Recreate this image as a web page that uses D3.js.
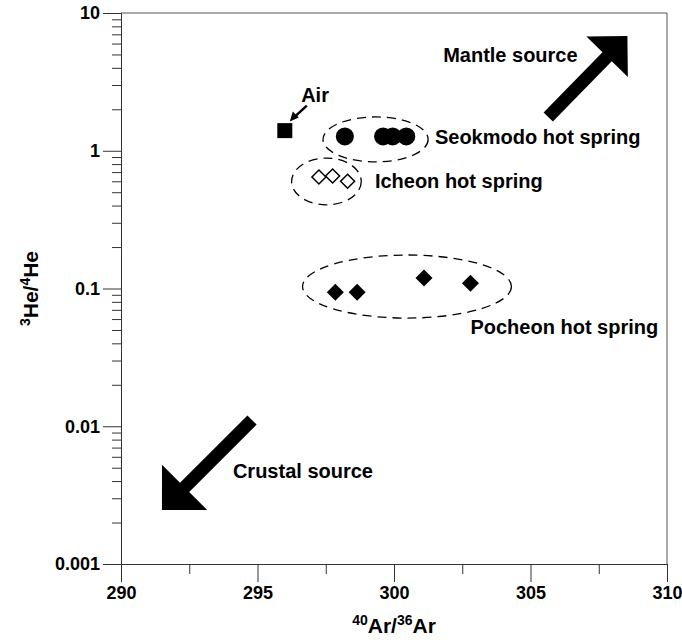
<!DOCTYPE html>
<meta charset="utf-8">
<style>
  body { margin: 0; background: #fff; }
  svg text { font-family: "Liberation Sans", Arial, sans-serif; font-weight: bold; }
</style>
<svg width="682" height="643"></svg>
<script src="https://d3js.org/d3.v7.min.js"></script>
<script>

// --- data ---
var xTicks = [290, 295, 300, 305, 310];
var xTickLabels = ["290", "295", "300", "305", "310"];
var xMinorTicks = [292.5, 297.5, 302.5, 307.5];
var yTicks = [0.001, 0.01, 0.1, 1, 10];
var yTickLabels = ["0.001", "0.01", "0.1", "1", "10"];

var airX = [296.0];
var airY = [1.40];
var seokmodoX = [298.2, 299.6, 299.95, 300.45];
var seokmodoY = [1.27, 1.27, 1.27, 1.27];
var icheonX = [297.25, 297.75, 298.3];
var icheonY = [0.645, 0.655, 0.60];
var pocheonX = [297.85, 298.65, 301.1, 302.8];
var pocheonY = [0.094, 0.094, 0.119, 0.109];

// dashed group outlines: [xmin, xmax, ymin, ymax] in data units
var seokmodoEllipse = [297.4, 301.25, 0.83, 1.76];
var icheonEllipse = [296.25, 298.8, 0.405, 0.885];
var pocheonEllipse = [296.65, 304.3, 0.061, 0.175];

// direction arrows: tail -> tip in data units
var mantleArrow = {tail: [305.65, 1.76], tip: [308.55, 6.8]};
var crustalArrow = {tail: [294.8, 0.0111], tip: [291.5, 0.00247]};

var svg = d3.select("svg"),
    margin = {top: 13, right: 15, bottom: 79, left: 121},
    width = +svg.attr("width") - margin.left - margin.right,
    height = +svg.attr("height") - margin.top - margin.bottom,
    g = svg.append("g").attr("transform", "translate(" + margin.left + "," + margin.top + ")");

var x = d3.scaleLinear().domain([290, 310]).range([0, width]);
var y = d3.scaleLog().domain([0.001, 10]).range([height, 0]);

var yMinor = [];
[0.001, 0.01, 0.1, 1].forEach(function(d) {
  for (var k = 2; k <= 9; k++) yMinor.push(d * k);
});

// frame (top + right)
g.append("path")
    .attr("fill", "none")
    .attr("stroke", "#555")
    .attr("d", "M0,0H" + width + "V" + height);

// axes
g.append("g")
    .attr("transform", "translate(0," + height + ")")
    .call(d3.axisBottom(x).tickValues(xTicks).tickSize(18).tickPadding(4)
      .tickFormat(function(d, i) { return xTickLabels[i]; }));
g.append("g")
    .attr("transform", "translate(0," + height + ")")
    .call(d3.axisBottom(x).tickValues(xMinorTicks).tickSize(10).tickFormat(""))
  .select(".domain").remove();

g.append("g")
    .call(d3.axisLeft(y).tickValues(yTicks).tickSize(18).tickPadding(3)
      .tickFormat(function(d, i) { return yTickLabels[i]; }));
g.append("g")
    .call(d3.axisLeft(y).tickValues(yMinor).tickSize(9).tickFormat(""))
  .select(".domain").remove();

g.selectAll(".tick line, .domain").attr("stroke", "#333");
g.selectAll(".tick text")
    .attr("font-size", 18)
    .attr("font-family", "Liberation Sans, Arial, sans-serif")
    .attr("font-weight", "bold")
    .attr("fill", "#000");

// axis titles
var xt = svg.append("text")
    .attr("x", margin.left + width / 2)
    .attr("y", 633)
    .attr("text-anchor", "middle")
    .attr("font-size", 21);
xt.append("tspan").attr("font-size", 14).attr("dy", -8).text("40");
xt.append("tspan").attr("dy", 8).text("Ar/");
xt.append("tspan").attr("font-size", 14).attr("dy", -8).text("36");
xt.append("tspan").attr("dy", 8).text("Ar");

var yt = svg.append("text")
    .attr("transform", "translate(38," + (margin.top + y(0.1)) + ") rotate(-90)")
    .attr("text-anchor", "middle")
    .attr("font-size", 21);
yt.append("tspan").attr("font-size", 14).attr("dy", -8).text("3");
yt.append("tspan").attr("dy", 8).text("He/");
yt.append("tspan").attr("font-size", 14).attr("dy", -8).text("4");
yt.append("tspan").attr("dy", 8).text("He");

// dashed ellipses
[seokmodoEllipse, icheonEllipse, pocheonEllipse].forEach(function(e) {
  var x0 = x(e[0]), x1 = x(e[1]), y0 = y(e[3]), y1 = y(e[2]);
  g.append("ellipse")
      .attr("cx", (x0 + x1) / 2)
      .attr("cy", (y0 + y1) / 2)
      .attr("rx", (x1 - x0) / 2)
      .attr("ry", (y1 - y0) / 2)
      .attr("fill", "none")
      .attr("stroke", "#000")
      .attr("stroke-width", 1.3)
      .attr("stroke-dasharray", "9,6");
});

function diamond(cx, cy, r) {
  return "M" + cx + "," + (cy - r) + "L" + (cx + r) + "," + cy +
         "L" + cx + "," + (cy + r) + "L" + (cx - r) + "," + cy + "Z";
}

// Air
g.selectAll(".air").data(airX).enter().append("rect")
    .attr("x", function(d) { return x(d) - 7.5; })
    .attr("y", function(d, i) { return y(airY[i]) - 7.5; })
    .attr("width", 15).attr("height", 15)
    .attr("fill", "#000");

// Seokmodo
g.selectAll(".seok").data(seokmodoX).enter().append("circle")
    .attr("cx", function(d) { return x(d); })
    .attr("cy", function(d, i) { return y(seokmodoY[i]); })
    .attr("r", 9)
    .attr("fill", "#000");

// Icheon
g.selectAll(".ich").data(icheonX).enter().append("path")
    .attr("d", function(d, i) { return diamond(x(d), y(icheonY[i]), 7); })
    .attr("fill", "#fff")
    .attr("stroke", "#000")
    .attr("stroke-width", 1.5);

// Pocheon
g.selectAll(".poc").data(pocheonX).enter().append("path")
    .attr("d", function(d, i) { return diamond(x(d), y(pocheonY[i]), 8.5); })
    .attr("fill", "#000");

// block arrows
function blockArrow(a, shaft, head) {
  var tx = x(a.tail[0]), ty = y(a.tail[1]), px = x(a.tip[0]), py = y(a.tip[1]);
  var dx = px - tx, dy = py - ty, L = Math.sqrt(dx * dx + dy * dy);
  var ux = dx / L, uy = dy / L, nx = -uy, ny = ux;
  var bx = px - ux * head, by = py - uy * head;
  var pts = [
    [tx + nx * shaft / 2, ty + ny * shaft / 2],
    [bx + nx * shaft / 2, by + ny * shaft / 2],
    [bx + nx * head, by + ny * head],
    [px, py],
    [bx - nx * head, by - ny * head],
    [bx - nx * shaft / 2, by - ny * shaft / 2],
    [tx - nx * shaft / 2, ty - ny * shaft / 2]
  ];
  g.append("path")
      .attr("d", "M" + pts.join("L") + "Z")
      .attr("fill", "#000");
}
blockArrow(mantleArrow, 13, 29);
blockArrow(crustalArrow, 13, 32);

// small arrow to Air
var ax = x(airX[0]), ay = y(airY[0]);
g.append("line")
    .attr("x1", ax + 22).attr("y1", ay - 25)
    .attr("x2", ax + 9).attr("y2", ay - 13)
    .attr("stroke", "#000").attr("stroke-width", 2.5);
g.append("path")
    .attr("d", "M" + (ax + 5) + "," + (ay - 9) + "L" + (ax + 8) + "," + (ay - 19) +
               "L" + (ax + 14) + "," + (ay - 13) + "Z")
    .attr("fill", "#000");

// annotations
var notes = [
  {text: "Air", x: 296.6, y: 2.25},
  {text: "Seokmodo hot spring", x: 301.5, y: 1.12},
  {text: "Icheon hot spring", x: 299.3, y: 0.54},
  {text: "Pocheon hot spring", x: 302.8, y: 0.047},
  {text: "Mantle source", x: 301.8, y: 4.4},
  {text: "Crustal source", x: 294.1, y: 0.0042}
];
g.selectAll(".note").data(notes).enter().append("text")
    .attr("x", function(d) { return x(d.x); })
    .attr("y", function(d) { return y(d.y); })
    .attr("font-size", 20)
    .attr("fill", "#000")
    .text(function(d) { return d.text; });

</script>
